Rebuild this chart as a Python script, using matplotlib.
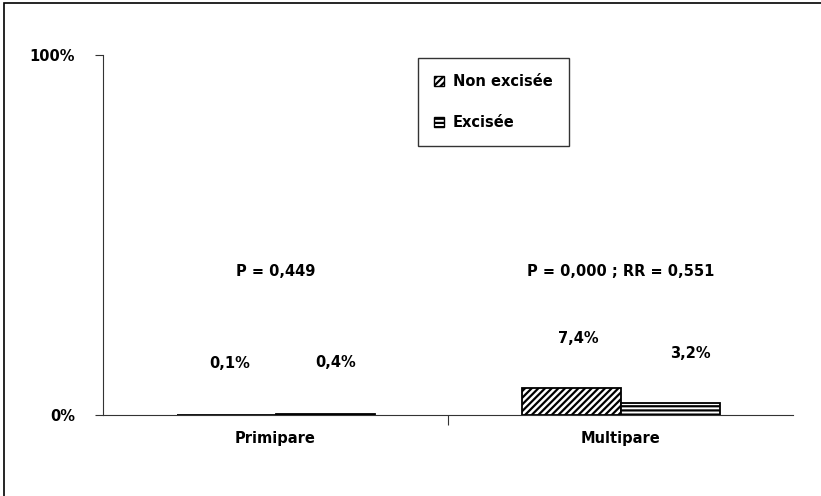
import numpy as np
import matplotlib
matplotlib.use("Agg")
import matplotlib.pyplot as plt
from matplotlib.patches import Patch, Rectangle

# data
categories = ['Primipare', 'Multipare']
non_excisee = [0.001, 0.074]
excisee = [0.004, 0.032]
non_labels = ['0,1%', '7,4%']
exc_labels = ['0,4%', '3,2%']
p_texts = ['P = 0,449', 'P = 0,000 ; RR = 0,551']
series_names = ['Non excisée', 'Excisée']

plt.rcParams['font.family'] = 'DejaVu Sans'
plt.rcParams['hatch.linewidth'] = 1.6
fs = 10.5

fig = plt.figure(figsize=(8.21, 4.96), dpi=100)
W, H = 821, 496
# outer frame (left/top visible)
fig.patches.append(Rectangle((4 / W, -0.1), 1.2, 1 - 3 / H + 0.1, transform=fig.transFigure,
                             fill=False, edgecolor='black', linewidth=1.2))

ax = fig.add_axes([103 / W, 81 / H, 690 / W, 360 / H])
x = np.arange(len(categories))
w = 99 / 345

b1 = ax.bar(x - w / 2, non_excisee, w, facecolor='white', edgecolor='black',
            hatch='/////', linewidth=1.3, label=series_names[0])
b2 = ax.bar(x + w / 2, excisee, w, facecolor='white', edgecolor='black',
            hatch='----', linewidth=1.3, label=series_names[1])

ax.set_xlim(-0.5, 1.5)
ax.set_ylim(0, 1)
for s in ['top', 'right']:
    ax.spines[s].set_visible(False)
for s in ['left', 'bottom']:
    ax.spines[s].set_color('#333333')
ax.set_yticks([0, 1])
ax.set_yticklabels(['0%', '100%'], fontsize=fs, fontweight='bold')
ax.tick_params(axis='y', direction='out', length=6, color='#333333', pad=14)
ax.set_xticks([0.5])
ax.set_xticklabels([''])
ax.tick_params(axis='x', direction='out', length=7, color='#333333')
for i, c in enumerate(categories):
    ax.annotate(c, (x[i], 0), xytext=(0, -17), textcoords='offset points',
                ha='center', va='center', fontsize=fs, fontweight='bold')

# data labels
dx1 = [3, 5]
dx2 = [8, 15]
dy1 = [37, 36]
dy2 = [37, 36]
for i in range(len(categories)):
    ax.annotate(non_labels[i], (x[i] - w / 2, non_excisee[i]), xytext=(dx1[i], dy1[i]),
                textcoords='offset points', ha='center', va='center',
                fontsize=fs, fontweight='bold')
    ax.annotate(exc_labels[i], (x[i] + w / 2, excisee[i]), xytext=(dx2[i], dy2[i]),
                textcoords='offset points', ha='center', va='center',
                fontsize=fs, fontweight='bold')
    ax.text(x[i], 0.4, p_texts[i], ha='center', va='center',
            fontsize=fs, fontweight='bold')

handles = [Patch(facecolor='white', edgecolor='black', hatch='/////', label=series_names[0]),
           Patch(facecolor='white', edgecolor='black', hatch='----', label=series_names[1])]
leg = fig.legend(handles=handles, loc='upper left', bbox_to_anchor=(418 / W, 1 - 58 / H),
                 frameon=True, fancybox=False, edgecolor='black', fontsize=fs,
                 handlelength=0.7, handleheight=0.7, handletextpad=0.6,
                 labelspacing=1.8, borderpad=1.1, borderaxespad=0)
leg.get_frame().set_linewidth(1)
for t in leg.get_texts():
    t.set_fontweight('bold')

fig.savefig('out.png', dpi=100)
